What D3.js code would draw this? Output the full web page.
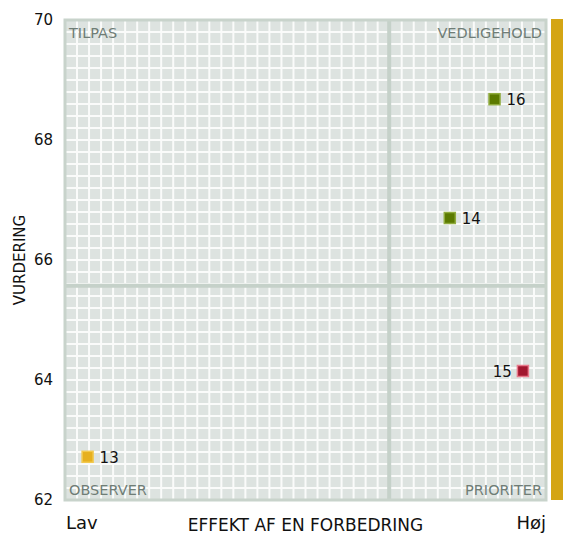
<!DOCTYPE html>
<html>
<head>
<meta charset="utf-8">
<script src="https://cdn.jsdelivr.net/npm/d3@7"></script>
<style>
  body { margin: 0; background: #fff; }
  svg { display: block; font-family: "DejaVu Sans", Verdana, sans-serif; }
</style>
</head>
<body>
<svg id="chart"></svg>
<script>
// data
const ids = ['13', '14', '15', '16'];
const effekt = [4.7, 80.0, 95.2, 89.3];      // x, 0 (Lav) .. 100 (Høj)
const vurdering = [62.72, 66.7, 64.15, 68.68];
const fillColors = ['#e6b01e', '#5b7a00', '#a2172f', '#5b7a00'];
const edgeColors = ['#f2c94e', '#8fab3c', '#e8798b', '#8fab3c'];
const labelSide = ['right', 'right', 'left', 'right'];

const yTicks = [62, 64, 66, 68, 70];
const xSplit = 67.4;    // vertical quadrant divider
const ySplit = 65.57;   // horizontal quadrant divider
const quadrants = ['TILPAS', 'VEDLIGEHOLD', 'OBSERVER', 'PRIORITER'];

let width = 563
let height = 535
let margin = {top: 20, right: 17, bottom: 35, left: 65}

let svg = d3.select('#chart')
  .attr('width', width)
  .attr('height', height)

let xScale = d3.scaleLinear()
  .domain([0, 100])
  .range([margin.left, width - margin.right])

let yScale = d3.scaleLinear()
  .domain([62, 70])
  .range([height - margin.bottom, margin.top])

let x0 = xScale.range()[0], x1 = xScale.range()[1]
let yTop = yScale.range()[1], yBot = yScale.range()[0]

// plot background
svg.append('rect')
  .attr('x', x0).attr('y', yTop)
  .attr('width', x1 - x0).attr('height', yBot - yTop)
  .attr('fill', '#dde3e0')

// fine white grid, 40 x 40 cells
let gridX = d3.range(1, 40).map(i => i * 2.5)
let gridY = d3.range(1, 40).map(i => 62 + i * 0.2)

svg.append('g')
  .selectAll('line')
  .data(gridX)
  .enter()
  .append('line')
  .attr('x1', d => xScale(d)).attr('x2', d => xScale(d))
  .attr('y1', yTop).attr('y2', yBot)
  .attr('stroke', '#fafbfa')
  .attr('stroke-width', 2)

svg.append('g')
  .selectAll('line')
  .data(gridY)
  .enter()
  .append('line')
  .attr('y1', d => yScale(d)).attr('y2', d => yScale(d))
  .attr('x1', x0).attr('x2', x1)
  .attr('stroke', '#fafbfa')
  .attr('stroke-width', 2)

// quadrant dividers
svg.append('line')
  .attr('x1', xScale(xSplit)).attr('x2', xScale(xSplit))
  .attr('y1', yTop).attr('y2', yBot)
  .attr('stroke', '#c5d1c9').attr('stroke-width', 4)

svg.append('line')
  .attr('y1', yScale(ySplit)).attr('y2', yScale(ySplit))
  .attr('x1', x0).attr('x2', x1)
  .attr('stroke', '#c5d1c9').attr('stroke-width', 4)

// border
svg.append('rect')
  .attr('x', x0).attr('y', yTop)
  .attr('width', x1 - x0).attr('height', yBot - yTop)
  .attr('fill', 'none')
  .attr('stroke', '#c8d3cb')
  .attr('stroke-width', 3)

// gold bar at the right
svg.append('rect')
  .attr('x', x1 + 5).attr('y', yTop - 1)
  .attr('width', width - x1 - 5).attr('height', yBot - yTop + 1)
  .attr('fill', '#d4a514')

// quadrant labels
let qPos = [
  {x: x0 + 4, y: yTop + 18, anchor: 'start'},
  {x: x1 - 4, y: yTop + 18, anchor: 'end'},
  {x: x0 + 4, y: yBot - 5, anchor: 'start'},
  {x: x1 - 4, y: yBot - 5, anchor: 'end'}
]
svg.append('g')
  .selectAll('text')
  .data(quadrants)
  .enter()
  .append('text')
  .attr('x', (d, i) => qPos[i].x)
  .attr('y', (d, i) => qPos[i].y)
  .attr('text-anchor', (d, i) => qPos[i].anchor)
  .attr('fill', '#6f7d76')
  .style('font-size', '14.5px')
  .text(d => d)

// y axis
let yAxis = d3.axisLeft(yScale).tickValues(yTicks).tickSize(0).tickPadding(12)
let yG = svg.append('g')
  .attr('transform', `translate(${x0}, 0)`)
  .call(yAxis)
yG.select('.domain').remove()
yG.selectAll('text')
  .style('font-family', '"DejaVu Sans", Verdana, sans-serif')
  .style('font-size', '15px')
  .attr('fill', '#111')

svg.append('text')
  .attr('transform', 'rotate(-90)')
  .attr('x', -(yTop + yBot) / 2)
  .attr('y', 25)
  .attr('text-anchor', 'middle')
  .style('font-size', '15px')
  .attr('fill', '#111')
  .text('VURDERING')

// x axis texts
svg.append('text')
  .attr('x', x0 + 1).attr('y', 529)
  .style('font-size', '18px').attr('fill', '#111')
  .text('Lav')

svg.append('text')
  .attr('x', x1).attr('y', 529)
  .attr('text-anchor', 'end')
  .style('font-size', '18px').attr('fill', '#111')
  .text('Høj')

svg.append('text')
  .attr('x', (x0 + x1) / 2).attr('y', 531)
  .attr('text-anchor', 'middle')
  .style('font-size', '17px').attr('fill', '#111')
  .text('EFFEKT AF EN FORBEDRING')

// points
let pts = ids.map((id, i) => ({
  id: id, x: effekt[i], y: vurdering[i],
  fill: fillColors[i], edge: edgeColors[i], side: labelSide[i]
}))

let size = 11
svg.append('g')
  .selectAll('rect')
  .data(pts)
  .enter()
  .append('rect')
  .attr('x', d => xScale(d.x) - size / 2)
  .attr('y', d => yScale(d.y) - size / 2)
  .attr('width', size).attr('height', size)
  .attr('fill', d => d.fill)
  .attr('stroke', d => d.edge)
  .attr('stroke-width', 1.5)

svg.append('g')
  .selectAll('text')
  .data(pts)
  .enter()
  .append('text')
  .attr('x', d => d.side === 'right' ? xScale(d.x) + 12 : xScale(d.x) - 11)
  .attr('y', d => yScale(d.y) + 6)
  .attr('text-anchor', d => d.side === 'right' ? 'start' : 'end')
  .style('font-size', '15px')
  .attr('fill', '#111')
  .text(d => d.id)
</script>
</body>
</html>
